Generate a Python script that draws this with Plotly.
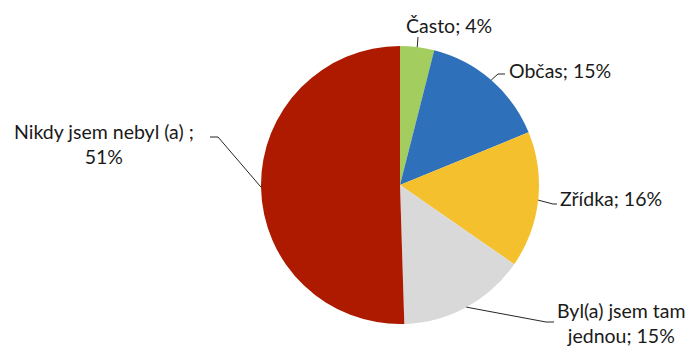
import math
import plotly.graph_objects as go

# Survey answers and their shares (%)
labels = ["Často", "Občas", "Zřídka", "Byl(a) jsem tam jednou", "Nikdy jsem nebyl (a)"]
values = [4, 15, 16, 15, 51]
colors = ["#a3cd5f", "#2e70b9", "#f4c02e", "#d9d9d9", "#ae1a00"]
label_texts = [
    "Často; 4%",
    "Občas; 15%",
    "Zřídka; 16%",
    "Byl(a) jsem tam<br>jednou; 15%",
    "Nikdy jsem nebyl (a) ;<br>51%",
]

W, H = 687, 347
CX, CY, R = 400, 185, 139  # pie centre and radius in pixels

# Label placement: text anchor, elbow points of the leader line
label_layout = [
    dict(x=449, y=26, xanchor="center", path=[(418, 37)]),
    dict(x=507, y=70, xanchor="left", path=[(498, 74), (505, 74)]),
    dict(x=558, y=199, xanchor="left", path=[(553, 204), (557, 204)]),
    dict(x=621, y=323, xanchor="center", path=[(546, 322), (554, 322)]),
    dict(x=104, y=144, xanchor="center", path=[(218, 137), (210, 137)]),
]

FONT = "Lato"
FONT_SIZE = 19.5

fig = go.Figure(
    go.Pie(
        labels=labels,
        values=values,
        marker=dict(colors=colors, line=dict(width=0)),
        sort=False,
        direction="clockwise",
        rotation=0,
        textinfo="none",
        hoverinfo="label+percent",
        domain=dict(x=[(CX - R) / W, (CX + R) / W], y=[1 - (CY + R) / H, 1 - (CY - R) / H]),
    )
)


def px(x, y):
    return x / W, 1 - y / H


total = sum(values)
cum = 0.0
shapes = []
annotations = []
for v, txt, lay in zip(values, label_texts, label_layout):
    mid = (cum + v / 2) / total * 2 * math.pi
    cum += v
    # point on the rim at the middle of the slice
    ex = CX + R * math.sin(mid)
    ey = CY - R * math.cos(mid)
    pts = [(ex, ey)] + lay["path"]
    for (x0, y0), (x1, y1) in zip(pts[:-1], pts[1:]):
        a0, b0 = px(x0, y0)
        a1, b1 = px(x1, y1)
        shapes.append(
            dict(type="line", xref="paper", yref="paper", x0=a0, y0=b0, x1=a1, y1=b1,
                 line=dict(color="#262626", width=1))
        )
    ax, ay = px(lay["x"], lay["y"])
    annotations.append(
        dict(text=txt, x=ax, y=ay, xref="paper", yref="paper", xanchor=lay["xanchor"],
             yanchor="middle", showarrow=False, align="center",
             font=dict(family=FONT, size=FONT_SIZE, color="#1a1a1a"))
    )

fig.update_layout(
    width=W,
    height=H,
    margin=dict(l=0, r=0, t=0, b=0),
    paper_bgcolor="white",
    plot_bgcolor="white",
    showlegend=False,
    shapes=shapes,
    annotations=annotations,
)

fig.write_html("out.html")
